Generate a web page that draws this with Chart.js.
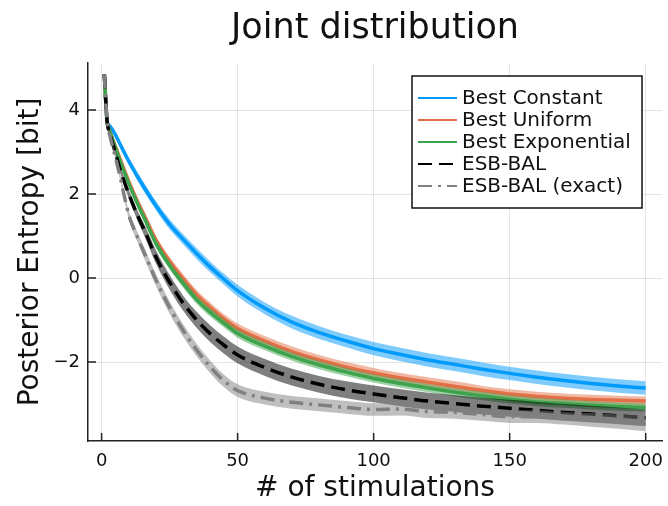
<!DOCTYPE html>
<html>
<head>
<meta charset="utf-8">
<script src="https://cdn.jsdelivr.net/npm/chart.js@4"></script>
<style>
  body { margin: 0; background: #fff; }
</style>
</head>
<body>
<canvas id="chart" width="668" height="506"></canvas>
<script>
// number of stimulations at which the mean entropy was recorded
const steps = [1, 2, 3, 5, 7, 10, 13, 16, 20, 25, 30, 35, 40, 45, 50, 60, 70, 80, 90, 100, 110, 120, 130, 140, 150, 160, 170, 180, 190, 200]
const xTicks = [0, 50, 100, 150, 200]
const yTicks = [-2, 0, 2, 4]

const labels = ['Best Constant', 'Best Uniform', 'Best Exponential', 'ESB-BAL', 'ESB-BAL (exact)']

// mean posterior entropy [bit]
const bestConstant = [4.85, 3.75, 3.62, 3.42, 3.16, 2.78, 2.44, 2.12, 1.72, 1.28, 0.92, 0.58, 0.26, -0.03, -0.3, -0.72, -1.05, -1.3, -1.5, -1.68, -1.82, -1.95, -2.06, -2.17, -2.27, -2.36, -2.44, -2.51, -2.57, -2.62]
const bestUniform = [4.85, 3.75, 3.5, 3.15, 2.8, 2.3, 1.85, 1.45, 0.9, 0.4, -0.02, -0.4, -0.7, -0.97, -1.2, -1.5, -1.75, -1.95, -2.12, -2.26, -2.38, -2.48, -2.58, -2.68, -2.76, -2.82, -2.86, -2.89, -2.91, -2.93]
const bestExponential = [4.85, 3.75, 3.5, 3.12, 2.75, 2.25, 1.8, 1.38, 0.82, 0.3, -0.13, -0.52, -0.82, -1.08, -1.32, -1.62, -1.87, -2.07, -2.24, -2.39, -2.51, -2.62, -2.72, -2.81, -2.89, -2.95, -2.99, -3.03, -3.06, -3.08]
const esbBal = [4.85, 3.75, 3.45, 3.0, 2.55, 2.0, 1.52, 1.1, 0.5, -0.1, -0.6, -1.0, -1.33, -1.6, -1.83, -2.13, -2.36, -2.53, -2.66, -2.76, -2.85, -2.93, -2.99, -3.05, -3.1, -3.15, -3.2, -3.24, -3.28, -3.33]
const esbBalExact = [4.85, 3.75, 3.4, 2.9, 2.35, 1.5, 1.0, 0.55, -0.05, -0.7, -1.25, -1.72, -2.12, -2.45, -2.68, -2.86, -2.96, -3.02, -3.08, -3.13, -3.12, -3.18, -3.2, -3.25, -3.3, -3.3, -3.34, -3.38, -3.42, -3.47]

// half width of the ribbon around each mean
const constantSpread = [0, 0.02, 0.04, 0.06, 0.08, 0.09, 0.1, 0.11, 0.11, 0.12, 0.12, 0.13, 0.13, 0.13, 0.14, 0.14, 0.15, 0.15, 0.15, 0.16, 0.16, 0.16, 0.16, 0.16, 0.16, 0.16, 0.16, 0.16, 0.16, 0.16]
const uniformSpread = [0, 0.02, 0.04, 0.05, 0.06, 0.07, 0.08, 0.09, 0.1, 0.1, 0.11, 0.11, 0.11, 0.11, 0.12, 0.12, 0.12, 0.12, 0.12, 0.12, 0.12, 0.12, 0.12, 0.11, 0.11, 0.11, 0.11, 0.11, 0.11, 0.11]
const exponentialSpread = [0, 0.02, 0.03, 0.04, 0.05, 0.06, 0.07, 0.08, 0.09, 0.09, 0.1, 0.1, 0.1, 0.1, 0.1, 0.1, 0.1, 0.1, 0.1, 0.1, 0.1, 0.1, 0.1, 0.1, 0.1, 0.1, 0.1, 0.1, 0.1, 0.1]
const esbSpread = [0, 0.02, 0.04, 0.06, 0.08, 0.1, 0.12, 0.14, 0.16, 0.17, 0.18, 0.19, 0.2, 0.2, 0.2, 0.2, 0.2, 0.2, 0.2, 0.2, 0.2, 0.2, 0.2, 0.2, 0.2, 0.2, 0.2, 0.2, 0.2, 0.2]
const exactSpread = [0, 0.02, 0.04, 0.06, 0.08, 0.1, 0.12, 0.13, 0.14, 0.15, 0.15, 0.15, 0.15, 0.15, 0.15, 0.15, 0.15, 0.15, 0.15, 0.15, 0.15, 0.15, 0.15, 0.15, 0.15, 0.15, 0.15, 0.16, 0.17, 0.18]

const FONT = 'DejaVu Sans'

const series = [
  { label: labels[0], mean: bestConstant, spread: constantSpread, color: '#009afa', band: 'rgba(0,154,250,0.5)', dash: [] },
  { label: labels[1], mean: bestUniform, spread: uniformSpread, color: '#e26f46', band: 'rgba(226,111,70,0.5)', dash: [] },
  { label: labels[2], mean: bestExponential, spread: exponentialSpread, color: '#3da44d', band: 'rgba(61,164,77,0.5)', dash: [] },
  { label: labels[3], mean: esbBal, spread: esbSpread, color: '#000000', band: 'rgba(0,0,0,0.5)', dash: [14, 7] },
  { label: labels[4], mean: esbBalExact, spread: exactSpread, color: '#808080', band: 'rgba(128,128,128,0.5)', dash: [14, 6, 3, 6] },
]

// every series gets a lower bound, an upper bound filled down to it, and the mean line;
// higher order is drawn first so later series sit on top
const datasets = []
series.forEach((s, i) => {
  const base = (series.length - i) * 10
  const lowIndex = datasets.length
  datasets.push({
    data: steps.map((x, j) => ({ x, y: s.mean[j] - s.spread[j] })),
    borderWidth: 0, borderColor: 'transparent', pointRadius: 0, fill: false, order: base + 2
  })
  datasets.push({
    data: steps.map((x, j) => ({ x, y: s.mean[j] + s.spread[j] })),
    borderWidth: 0, borderColor: 'transparent', pointRadius: 0,
    backgroundColor: s.band, fill: lowIndex, order: base + 1
  })
  datasets.push({
    label: s.label,
    data: steps.map((x, j) => ({ x, y: s.mean[j] })),
    borderColor: s.color, borderWidth: 3.5, borderDash: s.dash,
    pointRadius: 0, fill: false, order: base
  })
})

const minusSign = v => v < 0 ? '\u2212' + Math.abs(v) : String(v)

// title centred over the plot area, inward tick marks and boxed legend
const decorations = {
  id: 'decorations',
  beforeDatasetsDraw(chart) {
    const { ctx, chartArea, scales } = chart
    ctx.save()
    ctx.strokeStyle = '#222'
    ctx.lineWidth = 1.5
    ctx.beginPath()
    for (const v of xTicks) {
      const px = scales.x.getPixelForValue(v)
      ctx.moveTo(px, chartArea.bottom)
      ctx.lineTo(px, chartArea.bottom - 8)
    }
    for (const v of yTicks) {
      const py = scales.y.getPixelForValue(v)
      ctx.moveTo(chartArea.left, py)
      ctx.lineTo(chartArea.left + 8, py)
    }
    ctx.stroke()
    ctx.restore()
  },
  afterDraw(chart) {
    const { ctx, chartArea } = chart
    ctx.save()
    ctx.fillStyle = '#111'
    ctx.font = `35px "${FONT}"`
    ctx.textAlign = 'center'
    ctx.textBaseline = 'middle'
    ctx.fillText('Joint distribution', (chartArea.left + chartArea.right) / 2, 29)

    const entries = chart.data.datasets.filter(d => d.label)
    const rowH = 22
    const width = 230
    const height = rowH * (entries.length + 1)
    const left = chartArea.right - 20 - width
    const top = chartArea.top + 13

    ctx.fillStyle = '#fff'
    ctx.fillRect(left, top, width, height)
    ctx.strokeStyle = '#111'
    ctx.lineWidth = 1.5
    ctx.strokeRect(left, top, width, height)

    ctx.font = `20px "${FONT}"`
    ctx.textAlign = 'left'
    entries.forEach((d, k) => {
      const y = top + rowH * (k + 1)
      ctx.beginPath()
      ctx.strokeStyle = d.borderColor
      ctx.lineWidth = 2
      ctx.setLineDash(d.borderDash)
      ctx.moveTo(left + 6, y)
      ctx.lineTo(left + 45, y)
      ctx.stroke()
      ctx.setLineDash([])
      ctx.fillStyle = '#111'
      ctx.fillText(d.label, left + 50, y + 1)
    })
    ctx.restore()
  }
}

new Chart('chart', {
  type: 'line',
  data: { datasets },
  plugins: [decorations],
  options: {
    responsive: false,
    animation: false,
    devicePixelRatio: 1,
    layout: { padding: { top: 63, right: 6, left: 0, bottom: 0 } },
    elements: { line: { cubicInterpolationMode: 'monotone' } },
    plugins: {
      legend: { display: false },
      tooltip: { enabled: false },
      title: { display: false }
    },
    scales: {
      x: {
        type: 'linear',
        min: -5,
        max: 206,
        afterBuildTicks: axis => { axis.ticks = xTicks.map(value => ({ value })) },
        afterFit: scale => {
          scale.height = 65
          scale.paddingLeft = 0
          scale.paddingRight = 0
        },
        grid: { color: 'rgba(0,0,0,0.1)', drawTicks: false },
        border: { color: '#222', width: 1.5 },
        ticks: { color: '#111', padding: 10, maxRotation: 0, font: { family: FONT, size: 18 } },
        title: {
          display: true, text: '# of stimulations', color: '#111',
          font: { family: FONT, size: 28 }, padding: { top: 0, bottom: 0 }
        }
      },
      y: {
        type: 'linear',
        min: -3.88,
        max: 5.12,
        afterBuildTicks: axis => { axis.ticks = yTicks.map(value => ({ value })) },
        afterFit: scale => {
          scale.width = 88
          scale.paddingTop = 0
          scale.paddingBottom = 0
        },
        grid: { color: 'rgba(0,0,0,0.1)', drawTicks: false },
        border: { color: '#222', width: 1.5 },
        ticks: { color: '#111', padding: 8, callback: minusSign, font: { family: FONT, size: 18 } },
        title: {
          display: true, text: 'Posterior Entropy [bit]', color: '#111',
          font: { family: FONT, size: 28 }, padding: { top: 14, bottom: 0 }
        }
      }
    }
  }
})
</script>
</body>
</html>
